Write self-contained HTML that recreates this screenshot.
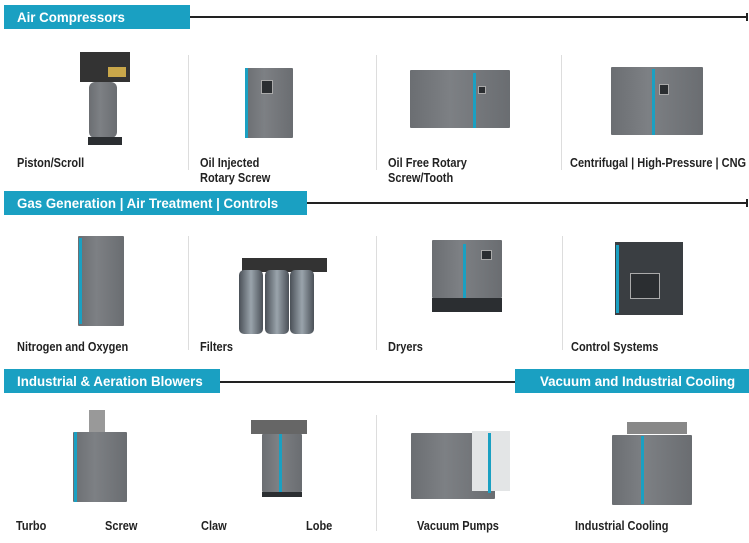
<!DOCTYPE html>
<html><head><meta charset="utf-8"><style>
body{margin:0;width:749px;height:543px;background:#fff;position:relative;overflow:hidden;font-family:"Liberation Sans",sans-serif}
.a{position:absolute}
.hd{position:absolute;background:#1aa0c2;height:24px}
.hd span{position:absolute;left:13px;top:4px;color:#fff;font-weight:bold;font-size:14px;white-space:nowrap;transform:scaleX(.95);transform-origin:left}
.ln{position:absolute;height:2px;background:#222}
.dv{position:absolute;width:1px;background:#ddd}
.lb{position:absolute;font-size:12.5px;font-weight:bold;color:#222;white-space:nowrap;transform:scaleX(.88);transform-origin:left;line-height:15px}
.m{position:absolute;background:linear-gradient(90deg,#6b6e72,#7d8084 40%,#6a6d71);border-radius:1px}
.d{position:absolute;background:#555a60}
.t{position:absolute;background:#1aa0c2;width:3px}
.s{position:absolute;background:#2b2e31;border:1px solid #aaa}
.k{position:absolute;background:#2b2e31}
</style></head><body>
<div class="hd" style="left:4px;top:5px;width:186px"><span>Air Compressors</span></div>
<div class="ln" style="left:190px;top:16px;width:557px"></div><div class="a" style="left:746px;top:13px;width:2px;height:8px;background:#222"></div>
<div class="hd" style="left:4px;top:191px;width:303px"><span>Gas Generation | Air Treatment | Controls</span></div>
<div class="ln" style="left:307px;top:202px;width:440px"></div><div class="a" style="left:746px;top:199px;width:2px;height:8px;background:#222"></div>
<div class="hd" style="left:4px;top:369px;width:216px"><span>Industrial &amp; Aeration Blowers</span></div>
<div class="ln" style="left:220px;top:381px;width:295px"></div>
<div class="hd" style="left:515px;top:369px;width:234px"><span style="left:25px">Vacuum and Industrial Cooling</span></div>
<div class="dv" style="left:188px;top:55px;height:115px"></div>
<div class="dv" style="left:376px;top:55px;height:115px"></div>
<div class="dv" style="left:561px;top:55px;height:115px"></div>
<div class="dv" style="left:188px;top:236px;height:114px"></div>
<div class="dv" style="left:376px;top:236px;height:114px"></div>
<div class="dv" style="left:562px;top:236px;height:114px"></div>
<div class="dv" style="left:376px;top:415px;height:116px"></div>
<div class="k" style="left:80px;top:52px;width:50px;height:30px;background:#333"></div>
<div class="a" style="left:108px;top:67px;width:18px;height:10px;background:#c9a74a"></div>
<div class="m" style="left:89px;top:82px;width:28px;height:56px;border-radius:6px"></div>
<div class="k" style="left:88px;top:137px;width:34px;height:8px"></div>
<div class="m" style="left:245px;top:68px;width:48px;height:70px"></div><div class="t" style="left:245px;top:68px;height:70px"></div><div class="s" style="left:261px;top:80px;width:10px;height:12px"></div>
<div class="m" style="left:410px;top:70px;width:100px;height:58px"></div><div class="t" style="left:473px;top:73px;height:55px"></div><div class="s" style="left:478px;top:86px;width:6px;height:6px"></div>
<div class="m" style="left:611px;top:67px;width:92px;height:68px"></div><div class="t" style="left:652px;top:69px;height:66px"></div><div class="s" style="left:659px;top:84px;width:8px;height:9px"></div>
<div class="lb" style="left:17px;top:156px">Piston/Scroll</div>
<div class="lb" style="left:200px;top:156px">Oil Injected<br>Rotary Screw</div>
<div class="lb" style="left:388px;top:156px">Oil Free Rotary<br>Screw/Tooth</div>
<div class="lb" style="left:570px;top:156px">Centrifugal | High-Pressure | CNG</div>
<div class="m" style="left:78px;top:236px;width:46px;height:90px"></div><div class="t" style="left:79px;top:238px;height:86px"></div>
<div class="k" style="left:242px;top:258px;width:85px;height:14px;background:#333"></div>
<div class="a" style="left:239px;top:270px;width:24px;height:64px;background:linear-gradient(90deg,#4a5057,#9aa4ac,#4a5057);border-radius:5px"></div>
<div class="a" style="left:265px;top:270px;width:24px;height:64px;background:linear-gradient(90deg,#4a5057,#9aa4ac,#4a5057);border-radius:5px"></div>
<div class="a" style="left:290px;top:270px;width:24px;height:64px;background:linear-gradient(90deg,#4a5057,#9aa4ac,#4a5057);border-radius:5px"></div>
<div class="m" style="left:432px;top:240px;width:70px;height:58px"></div><div class="t" style="left:463px;top:244px;height:68px"></div><div class="k" style="left:432px;top:298px;width:70px;height:14px"></div><div class="s" style="left:481px;top:250px;width:9px;height:8px"></div>
<div class="k" style="left:615px;top:242px;width:68px;height:73px;background:#3a3e42"></div><div class="t" style="left:616px;top:245px;height:68px"></div><div class="s" style="left:630px;top:273px;width:28px;height:24px"></div>
<div class="lb" style="left:17px;top:340px">Nitrogen and Oxygen</div>
<div class="lb" style="left:200px;top:340px">Filters</div>
<div class="lb" style="left:388px;top:340px">Dryers</div>
<div class="lb" style="left:571px;top:340px">Control Systems</div>
<div class="a" style="left:89px;top:410px;width:16px;height:22px;background:#999"></div>
<div class="m" style="left:73px;top:432px;width:54px;height:70px"></div><div class="t" style="left:74px;top:432px;height:70px"></div>
<div class="k" style="left:251px;top:420px;width:56px;height:14px;background:#666"></div>
<div class="m" style="left:262px;top:434px;width:40px;height:58px"></div><div class="t" style="left:279px;top:434px;height:58px"></div><div class="k" style="left:262px;top:492px;width:40px;height:5px"></div>
<div class="m" style="left:411px;top:433px;width:84px;height:66px"></div><div class="a" style="left:472px;top:431px;width:38px;height:60px;background:#e3e5e6"></div><div class="t" style="left:488px;top:433px;height:60px"></div>
<div class="m" style="left:612px;top:435px;width:80px;height:70px"></div><div class="t" style="left:641px;top:436px;height:68px"></div><div class="a" style="left:627px;top:422px;width:60px;height:12px;background:#888"></div>
<div class="lb" style="left:16px;top:519px">Turbo</div>
<div class="lb" style="left:105px;top:519px">Screw</div>
<div class="lb" style="left:201px;top:519px">Claw</div>
<div class="lb" style="left:306px;top:519px">Lobe</div>
<div class="lb" style="left:417px;top:519px">Vacuum Pumps</div>
<div class="lb" style="left:575px;top:519px">Industrial Cooling</div>
</body></html>
